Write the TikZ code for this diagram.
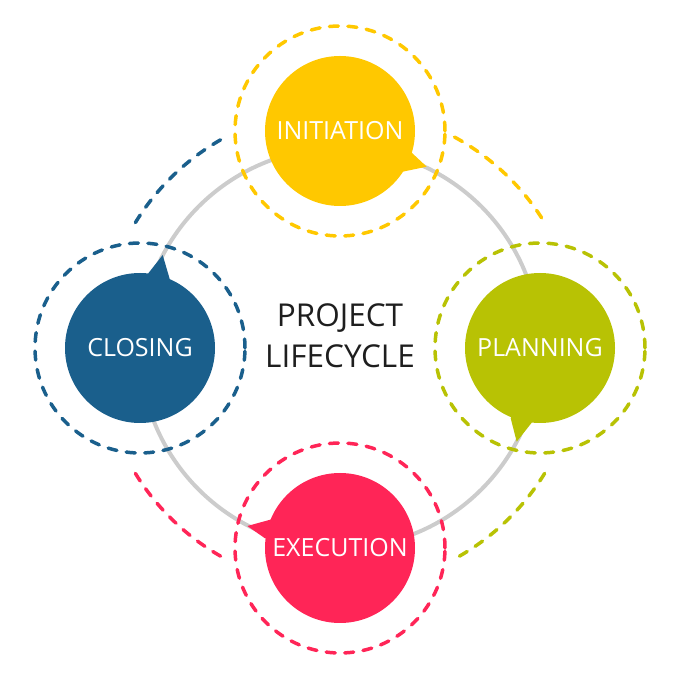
\documentclass[tikz,border=0pt]{standalone}
\usepackage{fontspec}
\setmainfont{Open Sans}
\definecolor{cyel}{RGB}{255,200,0}
\definecolor{cgrn}{RGB}{184,194,4}
\definecolor{cred}{RGB}{255,37,87}
\definecolor{cblu}{RGB}{26,95,140}
\definecolor{cgry}{RGB}{204,204,204}
\definecolor{ctxt}{RGB}{30,30,30}
\begin{document}
\begin{tikzpicture}[x=1pt,y=1pt,
  ring/.style={line width=3.5pt,dash pattern=on 9pt off 9.5pt,line cap=round},
  bubble/.style={circle,minimum size=150pt,inner sep=0pt,text=white,
    font=\fontsize{25}{30}\selectfont}]
\useasboundingbox (0,0) rectangle (680,680);
\coordinate (c) at (340,332);
\coordinate (ci) at (340,549);
\coordinate (cp) at (540,332);
\coordinate (ce) at (340,132);
\coordinate (cc) at (140,332);
% gray circle
\draw[cgry,line width=4pt] (c) circle[radius=200];
% dashed rings
\draw[ring,cyel] (ci) circle[radius=105];
\draw[ring,cgrn] (cp) circle[radius=105];
\draw[ring,cred] (ce) circle[radius=105];
\draw[ring,cblu] (cc) circle[radius=105];
% outer arcs
\draw[ring,cblu] (c) ++(148.5:240) arc[start angle=148.5,end angle=118.5,radius=240];
\draw[ring,cyel] (c) ++(61.5:240) arc[start angle=61.5,end angle=31.5,radius=240];
\draw[ring,cgrn] (c) ++(-31.5:240) arc[start angle=-31.5,end angle=-61.5,radius=240];
\draw[ring,cred] (c) ++(211.5:240) arc[start angle=211.5,end angle=241.5,radius=240];
% tails
\fill[cyel] (ci) -- (411.7,527.3) -- (426.7,513.3) -- (402.7,508.3) -- cycle;
\fill[cgrn] (cp) -- (510.7,261.7) -- (516.7,238.3) -- (531.7,257.3) -- cycle;
\fill[cred] (ce) -- (271.7,160.7) -- (247.3,154) -- (265,141.7) -- cycle;
\fill[cblu] (cc) -- (148.3,406.7) -- (162.7,425) -- (170,400) -- cycle;
% bubbles
\node[bubble,fill=cyel] (init) at (ci) {INITIATION};
\node[bubble,fill=cgrn] (plan) at (cp) {PLANNING};
\node[bubble,fill=cred] (exec) at (ce) {EXECUTION};
\node[bubble,fill=cblu] (clos) at (cc) {CLOSING};
% center label
\node[align=center,text=ctxt,font=\fontsize{31.5}{41}\selectfont] (title) at (340,344) {PROJECT\\LIFECYCLE};
\end{tikzpicture}
\end{document}
